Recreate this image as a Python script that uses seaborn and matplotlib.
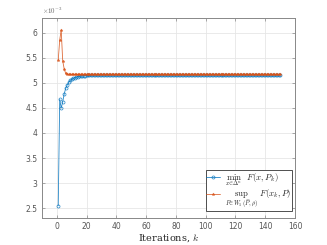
import numpy as np
import pandas as pd
import matplotlib
matplotlib.use("Agg")
import matplotlib.pyplot as plt
import seaborn as sns
from matplotlib.ticker import FuncFormatter, MultipleLocator

# values in units of 1e-3
min_early = [2.55, 4.67, 4.50, 4.62, 4.78, 4.89, 4.96, 5.01, 5.05, 5.07,
             5.09, 5.105, 5.115, 5.125, 5.13, 5.135, 5.14, 5.143, 5.146, 5.149,
             5.151, 5.153, 5.155, 5.156, 5.157, 5.158, 5.159, 5.16]
sup_early = [5.46, 5.86, 6.06, 5.44, 5.28, 5.19, 5.175, 5.172, 5.171, 5.17]
n_iter = 150
min_tail_value = 5.16
sup_tail_value = 5.17

min_vals = min_early + [min_tail_value] * (n_iter - len(min_early))
sup_vals = sup_early + [sup_tail_value] * (n_iter - len(sup_early))
iters = list(range(1, n_iter + 1))

df = pd.DataFrame({"k": iters + iters,
                   "val": min_vals + sup_vals,
                   "series": ["min"] * n_iter + ["sup"] * n_iter})

sns.set_theme(style="white")
plt.rcParams["mathtext.fontset"] = "cm"

fig = plt.figure(figsize=(3.27, 2.45), dpi=100)
ax = fig.add_axes([0.128, 0.110, 0.774, 0.817])

blue = (0.0, 0.447, 0.741)
orange = (0.85, 0.325, 0.098)

sns.lineplot(data=df[df.series == "min"], x="k", y="val", ax=ax, color=blue,
             lw=0.6, marker="o", markersize=2.2, markerfacecolor="none",
             markeredgecolor=blue, markeredgewidth=0.5, alpha=0.85,
             label=r"$\min_{x\in\Delta^n}\ \ F(x,P_k)$")
sns.lineplot(data=df[df.series == "sup"], x="k", y="val", ax=ax, color=orange,
             lw=0.6, marker="*", markersize=2.2, markeredgewidth=0.3,
             markeredgecolor=orange, alpha=0.85,
             label=r"$\sup_{P\in W_1(\widehat{P},\rho)}\ F(x_k,P)$")

ax.set_xlim(-10, 160)
ax.set_ylim(2.3, 6.3)
ax.xaxis.set_major_locator(MultipleLocator(20))
ax.yaxis.set_major_locator(MultipleLocator(0.5))
ax.yaxis.set_major_formatter(FuncFormatter(lambda v, p: f"{v:g}"))
ax.grid(True, color="#e6e6e6", lw=0.6)
ax.set_axisbelow(True)
for s in ax.spines.values():
    s.set_visible(True)
    s.set_color("#888888")
    s.set_linewidth(0.7)
ax.tick_params(axis="both", direction="in", length=2.5, width=0.5,
               colors="#888888", labelsize=5.5, labelcolor="#555555",
               top=True, right=True, bottom=True, left=True, pad=3)
ax.set_ylabel("")
ax.set_xlabel(r"Iterations, $k$", fontsize=7, labelpad=1)
ax.xaxis.label.set_fontfamily("DejaVu Serif")
ax.text(0.0, 1.01, r"$\times10^{-3}$", transform=ax.transAxes, fontsize=5,
        color="#666666", ha="left", va="bottom")

leg = ax.legend(loc="lower right", bbox_to_anchor=(0.988, 0.035),
                fontsize=6.3, frameon=True, fancybox=False,
                edgecolor="#333333", borderpad=0.1, handlelength=1.6,
                labelspacing=-0.05, borderaxespad=0.0, handletextpad=0.5,
                framealpha=1.0)
leg.get_frame().set_linewidth(0.6)

fig.savefig("out.png", dpi=100)
